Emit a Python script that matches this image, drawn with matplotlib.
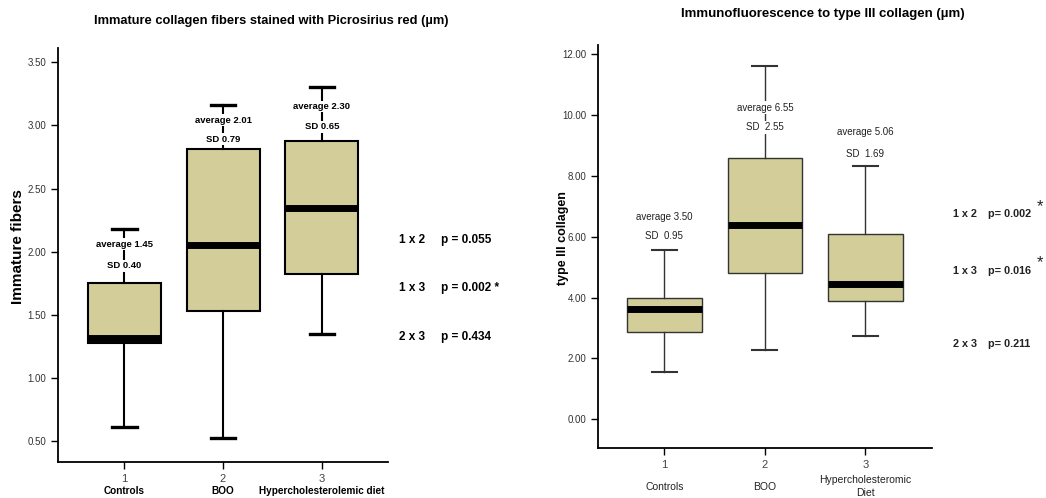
import matplotlib.pyplot as plt
from matplotlib.transforms import blended_transform_factory

plt.rcParams['font.family'] = ['Liberation Sans', 'DejaVu Sans']

groups = ['Controls', 'BOO', 'Hypercholesterolemic diet']
groups_r = ['Controls', 'BOO', 'Hypercholesteromic\nDiet']

# Picrosirius red, immature fibers (um)
imm_whislo = [0.61, 0.53, 1.35]
imm_q1 = [1.28, 1.53, 1.82]
imm_med = [1.32, 2.05, 2.35]
imm_q3 = [1.75, 2.81, 2.88]
imm_whishi = [2.18, 3.16, 3.30]
imm_avg = ['1.45', '2.01', '2.30']
imm_sd = ['0.40', '0.79', '0.65']
imm_p = [('1 x 2', 'p = 0.055'), ('1 x 3', 'p = 0.002 *'), ('2 x 3', 'p = 0.434')]

# Immunofluorescence, type III collagen (um)
col_whislo = [1.56, 2.28, 2.72]
col_q1 = [2.86, 4.81, 3.88]
col_med = [3.63, 6.38, 4.43]
col_q3 = [3.97, 8.59, 6.08]
col_whishi = [5.55, 11.62, 8.31]
col_avg = ['3.50', '6.55', '5.06']
col_sd = ['0.95', '2.55', '1.69']
col_p = [('1 x 2', 'p= 0.002', True), ('1 x 3', 'p= 0.016', True), ('2 x 3', 'p= 0.211', False)]

FILL = '#d3ce99'

fig = plt.figure(figsize=(10.46, 4.98), dpi=100)
ax1 = fig.add_axes([0.0555, 0.072, 0.3155, 0.831])
ax2 = fig.add_axes([0.5717, 0.100, 0.3190, 0.810])


def draw(ax, lo, q1, med, q3, hi, lw, lcol):
    stats = [dict(whislo=a, q1=b, med=c, q3=d, whishi=e)
             for a, b, c, d, e in zip(lo, q1, med, q3, hi)]
    ax.bxp(stats, positions=[1, 2, 3], widths=0.74, showfliers=False,
           patch_artist=True,
           boxprops=dict(facecolor=FILL, edgecolor=lcol, linewidth=lw),
           medianprops=dict(color='black', linewidth=5, solid_capstyle='butt'),
           whiskerprops=dict(color=lcol, linewidth=lw),
           capprops=dict(color=lcol, linewidth=lw * 1.6 if lw > 1 else lw * 1.5),
           capwidths=0.25)
    for s in ['top', 'right']:
        ax.spines[s].set_visible(False)
    for s in ['left', 'bottom']:
        ax.spines[s].set_linewidth(1.3)
    ax.tick_params(axis='y', labelsize=7, length=5, width=1, labelcolor='#333333')
    ax.tick_params(axis='x', labelsize=8, length=5, width=1, labelcolor='#444444')
    ax.set_xticks([1, 2, 3])
    ax.set_xticklabels(['1', '2', '3'])


# left chart
draw(ax1, imm_whislo, imm_q1, imm_med, imm_q3, imm_whishi, 1.5, 'black')
ax1.set_xlim(0.33, 3.67)
ax1.set_ylim(0.335, 3.61)
ax1.set_yticks([0.5, 1.0, 1.5, 2.0, 2.5, 3.0, 3.5])
ax1.yaxis.set_major_formatter('{x:.2f}')
ax1.set_ylabel('Immature fibers', fontsize=11, fontweight='bold')
ax1.yaxis.set_label_coords(-0.1, 0.52)
fig.text(0.259, 0.958, 'Immature collagen fibers stained with Picrosirius red (\u00b5m)',
         ha='center', va='center', fontsize=9.3, fontweight='bold')
tr1 = blended_transform_factory(ax1.transData, ax1.transAxes)
for i, g in enumerate(groups):
    ax1.text(i + 1, -0.07, g, transform=tr1, ha='center', va='center',
             fontsize=7.2, fontweight='bold')
avg_y1 = [2.06, 3.04, 3.15]
sd_y1 = [1.89, 2.89, 2.99]
bb = dict(boxstyle='square,pad=0.15', fc='white', ec='none')
for i in range(3):
    ax1.text(i + 1, avg_y1[i], 'average ' + imm_avg[i], ha='center', va='center',
             fontsize=6.8, fontweight='bold', bbox=bb)
    ax1.text(i + 1, sd_y1[i], 'SD ' + imm_sd[i], ha='center', va='center',
             fontsize=6.8, fontweight='bold', bbox=bb)
p_y1 = [0.518, 0.422, 0.323]
for (pair, p), y in zip(imm_p, p_y1):
    fig.text(0.381, y, pair, ha='left', va='center', fontsize=8.5, fontweight='bold')
    fig.text(0.422, y, p, ha='left', va='center', fontsize=8.5, fontweight='bold')

# right chart
draw(ax2, col_whislo, col_q1, col_med, col_q3, col_whishi, 1.0, '#333333')
ax2.set_xlim(0.34, 3.66)
ax2.set_ylim(-0.95, 12.3)
ax2.set_yticks([0, 2, 4, 6, 8, 10, 12])
ax2.yaxis.set_major_formatter('{x:.2f}')
ax2.set_ylabel('type III collagen', fontsize=9, fontweight='bold')
ax2.yaxis.set_label_coords(-0.088, 0.52)
fig.text(0.787, 0.972, 'Immunofluorescence to type III collagen (\u00b5m)',
         ha='center', va='center', fontsize=9.5, fontweight='bold')
tr2 = blended_transform_factory(ax2.transData, ax2.transAxes)
for i, g in enumerate(groups_r):
    ax2.text(i + 1, -0.095, g, transform=tr2, ha='center', va='center',
             fontsize=7.5, color='#222222', linespacing=1.3)
avg_y2 = [6.65, 10.23, 9.43]
sd_y2 = [6.01, 9.59, 8.72]
for i in range(3):
    ax2.text(i + 1, avg_y2[i], 'average ' + col_avg[i], ha='center', va='center',
             fontsize=7, color='#222222', bbox=bb)
    ax2.text(i + 1, sd_y2[i], 'SD  ' + col_sd[i], ha='center', va='center',
             fontsize=7, color='#222222', bbox=bb)
p_y2 = [0.570, 0.456, 0.309]
for (pair, p, star), y in zip(col_p, p_y2):
    fig.text(0.911, y, pair, ha='left', va='center', fontsize=7.8, fontweight='bold',
             color='#222222')
    fig.text(0.945, y, p, ha='left', va='center', fontsize=7.8, fontweight='bold',
             color='#222222')
    if star:
        fig.text(0.994, y + 0.016, '*', ha='center', va='center', fontsize=12,
                 color='#222222')

fig.savefig('out.png', dpi=100)
